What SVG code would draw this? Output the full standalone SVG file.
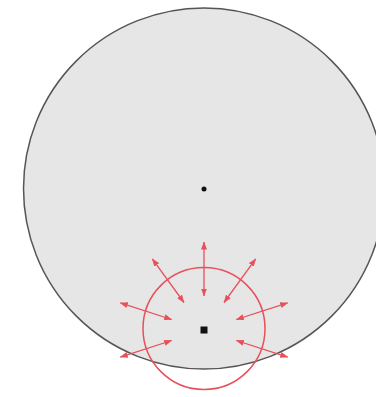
<svg xmlns="http://www.w3.org/2000/svg" width="376" height="397" viewBox="0 0 376 397">
<style>
.arrow{stroke:#e8505a;stroke-width:1.3;fill:none;marker-start:url(#ah);marker-end:url(#ah)}
</style>
<defs>
<marker id="ah" viewBox="0 0 8 6" refX="7.5" refY="3" markerWidth="8" markerHeight="6" markerUnits="userSpaceOnUse" orient="auto-start-reverse">
<path d="M0,0 L8,3 L0,6 z" fill="#e8505a"/>
</marker>
</defs>
<rect width="376" height="397" fill="#ffffff"/>
<g id="big-circle">
<circle cx="204" cy="188.5" r="180.5" fill="#e6e6e6" stroke="#555555" stroke-width="1.5"/>
</g>
<g id="center-dot">
<circle cx="204" cy="189" r="2.5" fill="#111111"/>
</g>
<g id="small-circle">
<circle cx="204" cy="328.5" r="61" fill="none" stroke="#e8505a" stroke-width="1.5"/>
</g>
<g id="square">
<rect x="200.5" y="326.5" width="7" height="7" fill="#111111"/>
</g>
<g id="connectors">
<line class="arrow" x1="204" y1="296" x2="204" y2="242"/>
<line class="arrow" x1="224" y1="302.5" x2="255.7" y2="258.8"/>
<line class="arrow" x1="184" y1="302.5" x2="152.3" y2="258.8"/>
<line class="arrow" x1="236.3" y1="319.5" x2="287.7" y2="302.8"/>
<line class="arrow" x1="171.7" y1="319.5" x2="120.3" y2="302.8"/>
<line class="arrow" x1="236.3" y1="340.5" x2="287.7" y2="357.2"/>
<line class="arrow" x1="171.7" y1="340.5" x2="120.3" y2="357.2"/>
</g>
</svg>
